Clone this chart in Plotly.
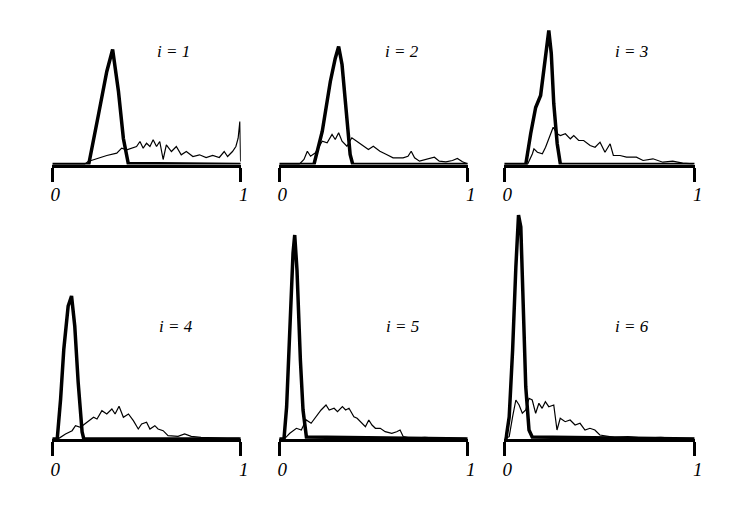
import plotly.graph_objects as go

# ---------------- data (x in [0,1], y = density, common scale) ----------------
panel_labels = ["i = 1", "i = 2", "i = 3", "i = 4", "i = 5", "i = 6"]
tick_vals = [0, 1]
tick_text = ["0", "1"]

# panel 1
p1_peak_x = [0, 0.193, 0.245, 0.289, 0.32, 0.351, 0.377, 0.403, 1.0]
p1_peak_y = [0, 0, 50, 93, 115, 73, 26, 1, 0]
p1_wide_x = [0, 0.17, 0.19, 0.228, 0.289, 0.342, 0.368, 0.395, 0.447, 0.465, 0.482, 0.5, 0.518,
             0.535, 0.553, 0.57, 0.588, 0.605, 0.632, 0.658, 0.684, 0.711, 0.746, 0.781, 0.816,
             0.851, 0.886, 0.912, 0.93, 0.956, 0.974, 0.986, 0.995, 0.999]
p1_wide_y = [0, 0, 3, 5.3, 9, 11.3, 16.3, 14.7, 18, 23, 16.3, 21.3, 18,
             24.7, 18, 23, 5, 19.7, 13, 18, 9.7, 13, 8, 9.7, 7,
             9, 7, 13, 8, 13, 18, 26.3, 43, 3]

# panel 2
p2_peak_x = [0, 0.184, 0.228, 0.271, 0.297, 0.315, 0.333, 0.355, 0.376, 0.39, 1.0]
p2_peak_y = [0, 0, 33, 83, 106, 118, 100, 50, 10, 0, 0]
p2_wide_x = [0, 0.105, 0.131, 0.149, 0.166, 0.192, 0.228, 0.254, 0.28, 0.297, 0.315, 0.333,
             0.359, 0.385, 0.411, 0.446, 0.473, 0.499, 0.534, 0.569, 0.604, 0.657, 0.683, 0.7,
             0.718, 0.744, 0.779, 0.823, 0.849, 0.884, 0.919, 0.945, 0.972, 0.998]
p2_wide_y = [0, 0, 5, 13.3, 8.3, 11.7, 23.3, 21.7, 30, 25, 31.7, 23.3,
             18.3, 26.7, 23.3, 18.3, 15, 18.3, 13.3, 10, 6.7, 6.7, 8.3, 13.3,
             6.7, 3.3, 5, 7.3, 3.3, 2.7, 4, 6, 2.7, 0.7]

# panel 3
p3_peak_x = [0, 0.113, 0.139, 0.165, 0.191, 0.208, 0.226, 0.234, 0.247, 0.26, 0.278, 0.295, 1.0]
p3_peak_y = [0, 0, 31, 57, 69, 94, 124, 134, 111, 61, 21, 0, 0]
p3_wide_x = [0, 0.122, 0.148, 0.156, 0.174, 0.2, 0.217, 0.243, 0.257, 0.278, 0.295, 0.321,
             0.347, 0.365, 0.391, 0.417, 0.451, 0.477, 0.503, 0.529, 0.556, 0.573, 0.608,
             0.642, 0.694, 0.729, 0.781, 0.833, 0.885, 0.937, 0.99]
p3_wide_y = [0, 0, 10.7, 15.7, 12.3, 10.7, 17.3, 30.7, 37.3, 30.7, 29, 30.7,
             25.7, 29, 24, 24, 19, 17.3, 22.3, 12.3, 20.7, 9, 9,
             7.3, 7.3, 4, 5.7, 2.3, 3.3, 1.3, 0.7]

# panel 4
p4_peak_x = [0, 0.026, 0.044, 0.061, 0.084, 0.102, 0.119, 0.137, 0.158, 0.167, 1.0]
p4_peak_y = [0, 0, 40, 90, 133, 143, 113, 57, 7, 0, 0]
p4_wide_x = [0, 0.035, 0.07, 0.105, 0.123, 0.149, 0.184, 0.219, 0.237, 0.263, 0.289, 0.316,
             0.333, 0.354, 0.377, 0.404, 0.43, 0.456, 0.474, 0.5, 0.518, 0.544, 0.561, 0.588,
             0.614, 0.667, 0.702, 0.737, 0.789, 0.86, 0.93, 0.991]
p4_wide_y = [0, 0.7, 5, 8.3, 13.3, 11.7, 16.7, 21.7, 20, 28.3, 25, 30,
             25, 32.7, 21.7, 25, 18.3, 10, 15, 16.7, 10, 13.3, 10, 8.3,
             3.3, 2.7, 5, 2.7, 1.7, 1, 0.7, 0.7]

# panel 5
p5_peak_x = [0, 0.025, 0.039, 0.056, 0.073, 0.082, 0.094, 0.112, 0.126, 0.144, 1.0]
p5_peak_y = [0, 0, 32, 119, 186, 204, 169, 79, 29, 2, 0]
p5_wide_x = [0, 0.03, 0.056, 0.091, 0.117, 0.143, 0.169, 0.195, 0.222, 0.248, 0.265, 0.291,
             0.309, 0.335, 0.352, 0.37, 0.396, 0.413, 0.44, 0.457, 0.475, 0.492, 0.51, 0.536,
             0.562, 0.597, 0.623, 0.641, 0.658, 0.702, 0.772, 0.859, 0.99]
p5_wide_y = [0, 0.7, 5.7, 10.7, 9, 19, 15.7, 22.3, 29, 34, 29, 30.7,
             27.3, 32.3, 29, 30.7, 22.3, 20.7, 15.7, 12.3, 19, 14, 10.7, 10.7,
             7.3, 5.7, 7.3, 9, 2.3, 0.7, 1.7, 0.7, 0.7]

# panel 6
p6_peak_x = [0, 0.009, 0.026, 0.044, 0.061, 0.075, 0.087, 0.099, 0.113, 0.13, 0.147, 1.0]
p6_peak_y = [0, 0, 22, 89, 172, 224, 212, 139, 52, 9, 2, 0]
p6_wide_x = [0, 0.026, 0.044, 0.061, 0.078, 0.095, 0.113, 0.13, 0.147, 0.165, 0.182, 0.199,
             0.216, 0.234, 0.26, 0.277, 0.294, 0.32, 0.346, 0.372, 0.398, 0.424, 0.45, 0.476,
             0.502, 0.528, 0.58, 0.649, 0.735, 0.822, 0.909, 0.995]
p6_wide_y = [0, 2.3, 22.3, 39, 34, 25.7, 29, 40.7, 39, 25.7, 35.7, 30.7,
             37.3, 32.3, 34, 9, 20.7, 17.3, 19, 14, 15.7, 9, 10.7, 9,
             4, 3, 1.7, 2.3, 1, 1.7, 0.7, 0.7]

peaks = [(p1_peak_x, p1_peak_y), (p2_peak_x, p2_peak_y), (p3_peak_x, p3_peak_y),
         (p4_peak_x, p4_peak_y), (p5_peak_x, p5_peak_y), (p6_peak_x, p6_peak_y)]
wides = [(p1_wide_x, p1_wide_y), (p2_wide_x, p2_wide_y), (p3_wide_x, p3_wide_y),
         (p4_wide_x, p4_wide_y), (p5_wide_x, p5_wide_y), (p6_wide_x, p6_wide_y)]

# ---------------- layout geometry (pixels) ----------------
W, H = 753, 509
col_px = [(51, 242), (281, 472), (509, 702)]
row_px = [(24, 164.5), (198, 439)]          # (top, baseline)
title_px = [(174, 52), (405, 52), (638, 51), (176, 326), (406, 326), (638, 326)]

serif = "Liberation Serif, Times New Roman, serif"

fig = go.Figure()
layout = dict(
    width=W, height=H, margin=dict(l=0, r=0, t=0, b=0),
    paper_bgcolor="white", plot_bgcolor="white", showlegend=False,
)
annotations = []
for k in range(6):
    r, c = divmod(k, 3)
    xa = "x" if k == 0 else f"x{k+1}"
    ya = "y" if k == 0 else f"y{k+1}"
    top, base = row_px[r]
    x0, x1 = col_px[c]
    layout["xaxis" if k == 0 else f"xaxis{k+1}"] = dict(
        domain=[x0 / W, x1 / W], anchor=ya, range=[0, 1],
        showgrid=False, zeroline=False, showline=True, linecolor="black", linewidth=3,
        ticks="outside", ticklen=14, tickwidth=2.5, tickcolor="black",
        tickvals=tick_vals, ticktext=tick_text,
        tickfont=dict(family=serif, size=19, color="black", style="italic"),
        ticklabelstandoff=-3, ticklabelshift=3,
        fixedrange=True,
    )
    layout["yaxis" if k == 0 else f"yaxis{k+1}"] = dict(
        domain=[1 - base / H, 1 - top / H], anchor=xa, range=[0, base - top],
        visible=False, showgrid=False, zeroline=False, fixedrange=True,
    )
    wx, wy = wides[k]
    px_, py_ = peaks[k]
    fig.add_trace(go.Scatter(x=wx, y=wy, mode="lines", xaxis=xa, yaxis=ya,
                             line=dict(color="black", width=1.2), hoverinfo="skip"))
    fig.add_trace(go.Scatter(x=px_, y=py_, mode="lines", xaxis=xa, yaxis=ya,
                             line=dict(color="black", width=3.5), hoverinfo="skip"))
    tx, ty = title_px[k]
    annotations.append(dict(
        x=tx / W, y=1 - ty / H, xref="paper", yref="paper", showarrow=False,
        text=panel_labels[k], xanchor="center", yanchor="middle",
        font=dict(family=serif, size=17, color="black", style="italic"),
    ))
layout["annotations"] = annotations
fig.update_layout(**layout)
fig.write_html("out.html", config={"displayModeBar": False},
               post_script="document.body.style.margin='0';document.body.style.overflow='hidden';")
